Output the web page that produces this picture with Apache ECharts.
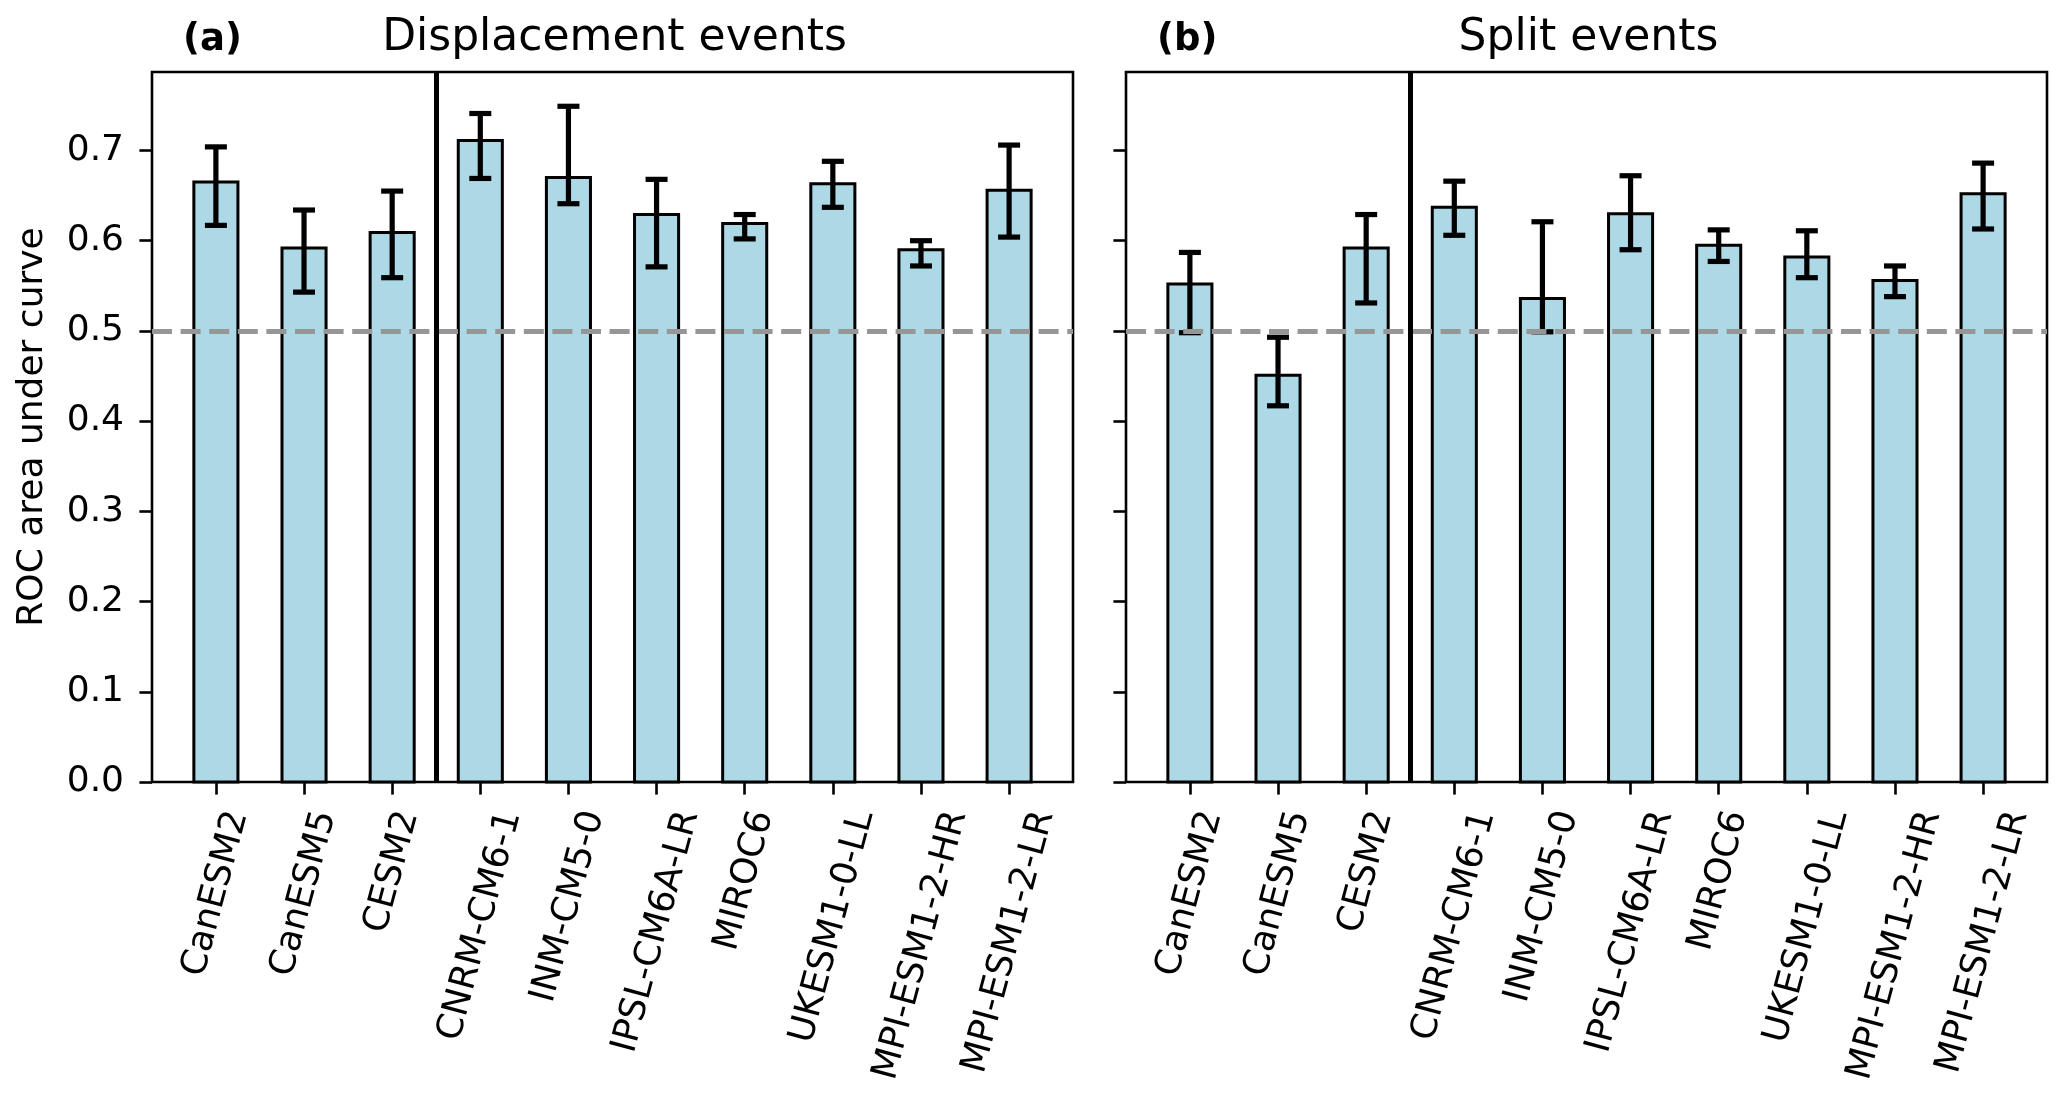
<!DOCTYPE html>
<html>
<head>
<meta charset="utf-8">
<script src="https://cdn.jsdelivr.net/npm/echarts@6/dist/echarts.min.js"></script>
<style>
  html, body { margin: 0; padding: 0; background: #fff; }
  #chart { width: 2067px; height: 1103px; }
</style>
</head>
<body>
<div id="chart"></div>
<script>
// ---------------- data ----------------
const models = ['CanESM2', 'CanESM5', 'CESM2', 'CNRM-CM6-1', 'INM-CM5-0', 'IPSL-CM6A-LR',
                'MIROC6', 'UKESM1-0-LL', 'MPI-ESM1-2-HR', 'MPI-ESM1-2-LR'];

// (a) Displacement events
const dispValue = [0.665, 0.592, 0.609, 0.711, 0.670, 0.629, 0.619, 0.663, 0.590, 0.656];
const dispLow   = [0.617, 0.543, 0.559, 0.669, 0.641, 0.571, 0.602, 0.637, 0.572, 0.604];
const dispHigh  = [0.704, 0.634, 0.655, 0.741, 0.749, 0.668, 0.629, 0.688, 0.600, 0.706];

// (b) Split events
const splitValue = [0.552, 0.451, 0.592, 0.637, 0.536, 0.630, 0.595, 0.582, 0.556, 0.652];
const splitLow   = [0.498, 0.417, 0.531, 0.606, 0.499, 0.590, 0.577, 0.559, 0.538, 0.613];
const splitHigh  = [0.587, 0.493, 0.629, 0.666, 0.621, 0.672, 0.612, 0.611, 0.572, 0.686];

const yTicks = [0.0, 0.1, 0.2, 0.3, 0.4, 0.5, 0.6, 0.7];
const xTicks = [0, 1, 2, 3, 4, 5, 6, 7, 8, 9];
const chanceLevel = 0.5;     // dashed reference line
const groupSplit = 2.5;      // vertical separator between model groups
const panelTitles = ['Displacement events', 'Split events'];
const panelTags = ['(a)', '(b)'];

// ---------------- layout / style ----------------
const FONT = 'DejaVu Sans';
const GRID_TOP = 72, GRID_H = 710, GRID_W = 921;
const GRID_LEFTS = [152, 1126];
const X_MIN = -0.725, X_MAX = 9.725, Y_MIN = 0, Y_MAX = 0.787;
const BAR_HALF = 0.25;
const CAP = 11;
const ROT = 75;
const LABEL_FS = 36;
const LABEL_MARGIN = 10;
const BBOX_TOP = 807;

const th = ROT * Math.PI / 180, S = Math.sin(th), C = Math.cos(th);
const mctx = document.createElement('canvas').getContext('2d');
mctx.font = LABEL_FS + 'px "' + FONT + '"';
const rich = {};
models.forEach((m, i) => {
  const L = mctx.measureText(m).width;
  const H = LABEL_FS;
  const D = BBOX_TOP + (L * S + H * C) / 2 - (GRID_TOP + GRID_H + LABEL_MARGIN);
  rich['l' + i] = {
    fontSize: LABEL_FS, fontFamily: FONT, color: '#000',
    padding: [2 * D * C, 2 * D * S, 0, 0]
  };
});

function barItem(params, api) {
  const i = api.value(0), v = api.value(1);
  const p0 = api.coord([i - BAR_HALF, 0]);
  const p1 = api.coord([i + BAR_HALF, v]);
  return {
    type: 'rect',
    shape: { x: p0[0], y: p1[1], width: p1[0] - p0[0], height: p0[1] - p1[1] },
    style: { fill: '#add8e6', stroke: '#000', lineWidth: 3 }
  };
}
function errItem(params, api) {
  const i = api.value(0);
  const lo = api.coord([i, api.value(1)]);
  const hi = api.coord([i, api.value(2)]);
  const st = { stroke: '#000', lineWidth: 5.2 };
  return {
    type: 'group',
    children: [
      { type: 'line', shape: { x1: lo[0], y1: lo[1], x2: hi[0], y2: hi[1] }, style: st },
      { type: 'line', shape: { x1: lo[0] - CAP, y1: lo[1], x2: lo[0] + CAP, y2: lo[1] }, style: st },
      { type: 'line', shape: { x1: hi[0] - CAP, y1: hi[1], x2: hi[0] + CAP, y2: hi[1] }, style: st }
    ]
  };
}

const panels = [
  { v: dispValue, lo: dispLow, hi: dispHigh },
  { v: splitValue, lo: splitLow, hi: splitHigh }
];

const grids = [], xAxes = [], yAxes = [], series = [], titles = [];
panels.forEach((p, k) => {
  grids.push({
    left: GRID_LEFTS[k], top: GRID_TOP, width: GRID_W, height: GRID_H,
    show: true, borderColor: '#000', borderWidth: 2.6, backgroundColor: 'transparent',
    containLabel: false, outerBoundsMode: 'none'
  });
  xAxes.push({
    type: 'value', gridIndex: k, min: X_MIN, max: X_MAX, position: 'bottom',
    axisLine: { show: false, onZero: false },
    splitLine: { show: false },
    axisTick: { show: true, customValues: xTicks, length: 12.6, lineStyle: { color: '#000', width: 2.6 } },
    axisLabel: {
      show: true, customValues: xTicks, rotate: ROT, margin: LABEL_MARGIN,
      align: 'center', verticalAlign: 'middle',
      fontSize: LABEL_FS, fontFamily: FONT, color: '#000',
      formatter: (val) => '{l' + Math.round(val) + '|' + models[Math.round(val)] + '}',
      rich: rich
    }
  });
  yAxes.push({
    type: 'value', gridIndex: k, min: Y_MIN, max: Y_MAX, position: 'left',
    axisLine: { show: false, onZero: false },
    splitLine: { show: false },
    axisTick: { show: true, customValues: yTicks, length: 12.6, lineStyle: { color: '#000', width: 2.6 } },
    axisLabel: {
      show: k === 0, customValues: yTicks, margin: 28,
      fontSize: 36, fontFamily: FONT, color: '#000',
      formatter: (val) => val.toFixed(1)
    },
    name: k === 0 ? 'ROC area under curve' : '',
    nameLocation: 'middle', nameGap: 101,
    nameTextStyle: { fontSize: 36, fontFamily: FONT, color: '#000' }
  });
  series.push({
    type: 'custom', xAxisIndex: k, yAxisIndex: k, z: 2,
    renderItem: barItem,
    data: p.v.map((v, i) => [i, v])
  });
  series.push({
    type: 'line', xAxisIndex: k, yAxisIndex: k, z: 3, data: [],
    markLine: {
      silent: true, symbol: 'none', animation: false,
      label: { show: false },
      data: [
        { yAxis: chanceLevel, lineStyle: { color: '#969696', width: 5.2, type: [20, 8.6] } },
        { xAxis: groupSplit, lineStyle: { color: '#000', width: 5, type: 'solid' } }
      ]
    }
  });
  series.push({
    type: 'custom', xAxisIndex: k, yAxisIndex: k, z: 4,
    renderItem: errItem,
    data: p.v.map((v, i) => [i, p.lo[i], p.hi[i]])
  });
  titles.push({
    text: panelTitles[k], left: GRID_LEFTS[k] + GRID_W / 2 - 3, top: 12, textAlign: 'center',
    textStyle: { fontSize: 44, fontWeight: 'normal', fontFamily: FONT, color: '#000' }
  });
  titles.push({
    text: panelTags[k], left: GRID_LEFTS[k] + 26, top: 17,
    textStyle: { fontSize: 37, fontWeight: 'bold', fontFamily: FONT, color: '#000' }
  });
});

const chart = echarts.init(document.getElementById('chart'));
chart.setOption({
  animation: false,
  backgroundColor: '#fff',
  title: titles,
  grid: grids,
  xAxis: xAxes,
  yAxis: yAxes,
  series: series
});
</script>
</body>
</html>
